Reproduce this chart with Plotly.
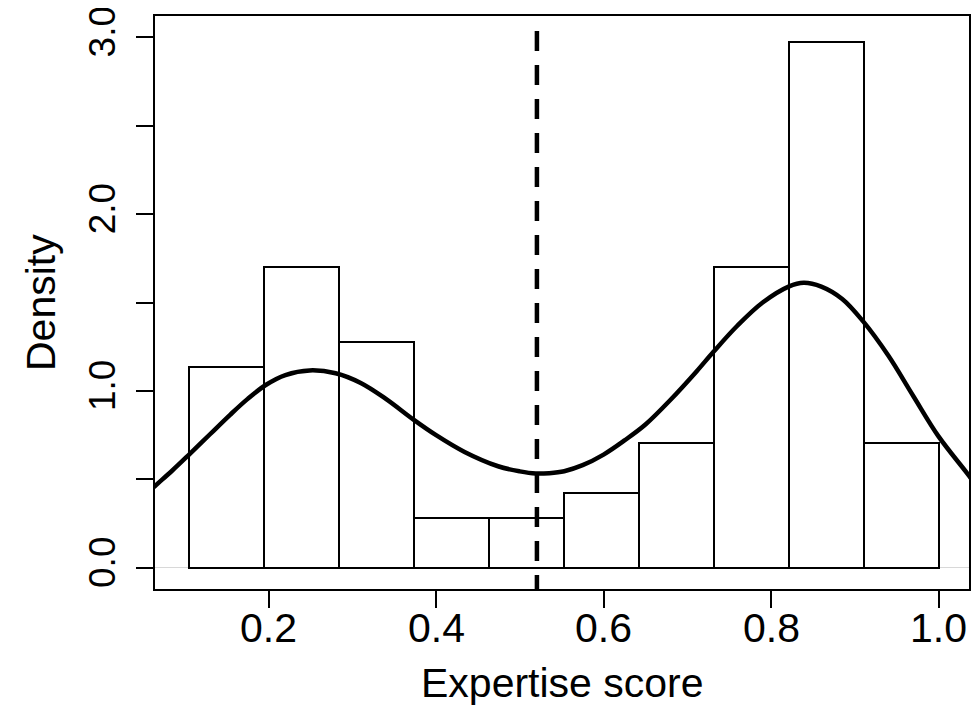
import plotly.graph_objects as go

# ---- data ----
bin_edges = [0.105, 0.1945, 0.284, 0.3735, 0.463, 0.5525, 0.642, 0.7315, 0.821, 0.9105, 1.0]
densities = [1.133, 1.699, 1.274, 0.283, 0.283, 0.425, 0.708, 1.699, 2.974, 0.708]

kde_x = [0.05, 0.064, 0.085, 0.105, 0.13, 0.154, 0.175, 0.197, 0.22, 0.249, 0.28, 0.31, 0.34,
         0.373, 0.40, 0.434, 0.474, 0.50, 0.519, 0.535, 0.553, 0.575, 0.60, 0.625, 0.65,
         0.68, 0.711, 0.731, 0.76, 0.79, 0.821, 0.839, 0.86, 0.885, 0.91, 0.94, 0.97,
         1.0, 1.037, 1.05]
kde_y = [0.40, 0.461, 0.55, 0.640, 0.755, 0.865, 0.955, 1.035, 1.09, 1.116, 1.10, 1.045, 0.955,
         0.838, 0.75, 0.655, 0.574, 0.545, 0.533, 0.535, 0.546, 0.58, 0.64, 0.72, 0.81,
         0.95, 1.11, 1.22, 1.37, 1.50, 1.59, 1.612, 1.59, 1.52, 1.393, 1.20, 0.97,
         0.743, 0.517, 0.43]

cutoff = 0.5204

x_ticks = [0.2, 0.4, 0.6, 0.8, 1.0]
x_tick_text = ["0.2", "0.4", "0.6", "0.8", "1.0"]
y_ticks = [0.0, 0.5, 1.0, 1.5, 2.0, 2.5, 3.0]
y_tick_text = ["0.0", "", "1.0", "", "2.0", "", "3.0"]

x_title = "Expertise score"
y_title = "Density"

# ---- figure ----
centers = [(a + b) / 2 for a, b in zip(bin_edges[:-1], bin_edges[1:])]
widths = [b - a for a, b in zip(bin_edges[:-1], bin_edges[1:])]

FONT = "Liberation Sans, Arial, Helvetica, sans-serif"
fs = 41

fig = go.Figure()
fig.add_trace(go.Bar(x=centers, y=densities, width=widths,
                     marker=dict(color="white", line=dict(color="black", width=2)),
                     hoverinfo="skip"))
fig.add_trace(go.Scatter(x=kde_x, y=kde_y, mode="lines",
                         line=dict(color="black", width=4.5, shape="spline", smoothing=1.0),
                         hoverinfo="skip"))

y_lo, y_hi = -0.12, 3.12
fig.add_shape(type="line", xref="x", yref="y", x0=cutoff, x1=cutoff, y0=3.035, y1=y_lo,
              line=dict(color="black", width=4.5, dash="20px,14px"))

# the page body has an 8px margin and clips at its content width (963px),
# so the figure is sized to fit inside it
fig.update_layout(
    width=963, height=700,
    margin=dict(l=146.5, r=2, t=8, b=119, pad=0),
    plot_bgcolor="white", paper_bgcolor="white",
    showlegend=False, bargap=0,
    font=dict(family=FONT, size=fs, color="black"),
)
fig.update_xaxes(range=[0.0643, 1.0364], showgrid=False, zeroline=False,
                 showline=True, linecolor="black", linewidth=2, mirror=True,
                 ticks="outside", ticklen=17, tickwidth=2, tickcolor="black",
                 tickvals=x_ticks, showticklabels=False, automargin=False)
fig.update_yaxes(range=[y_lo, y_hi], showgrid=False,
                 zeroline=True, zerolinecolor="#d8d8d8", zerolinewidth=1,
                 showline=True, linecolor="black", linewidth=2, mirror=True,
                 ticks="outside", ticklen=17, tickwidth=2, tickcolor="black",
                 tickvals=y_ticks, ticktext=y_tick_text, tickangle=-90,
                 tickfont=dict(size=37), ticklabelstandoff=6,
                 ticklabeloverflow="allow", automargin=False)

# x tick labels placed through the x scale
for v, t in zip(x_ticks, x_tick_text):
    fig.add_annotation(text=t, xref="x", yref="paper", x=v, y=0,
                       xanchor="center", yanchor="middle", yshift=-39,
                       showarrow=False, font=dict(size=fs))

fig.add_annotation(text=x_title, xref="paper", yref="paper", x=0.5, y=0,
                   xanchor="center", yanchor="middle", yshift=-94, showarrow=False,
                   font=dict(size=fs))
fig.add_annotation(text=y_title, xref="paper", yref="paper", x=0, y=0.5,
                   xanchor="center", yanchor="middle", xshift=-114.5, textangle=-90,
                   showarrow=False, font=dict(size=fs))

fig.write_html("out.html")
